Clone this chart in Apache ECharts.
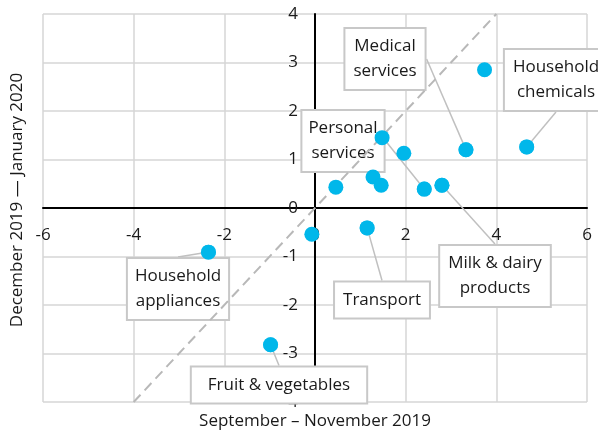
<!DOCTYPE html>
<html lang="en">
<head>
    <meta charset="UTF-8">
    <script src="https://cdn.jsdelivr.net/npm/echarts@6.0.0/dist/echarts.min.js"></script>
    <title>Price changes</title>
    <style>
        html, body { margin: 0; padding: 0; background: #fff; }
    </style>
</head>
<body>
    <div id="main" style="width: 598px;height:434px;"></div>
    <script type="text/javascript">

      // change in Sep-Nov 2019 (x) vs Dec 2019-Jan 2020 (y)
      var xValues = [3.74, 3.33, 4.67, 1.48, 1.96, 0.46, 1.28, 1.46, 2.41, 2.80, -2.35, -0.98, -0.07, 1.15];
      var yValues = [2.85, 1.20, 1.26, 1.45, 1.13, 0.43, 0.64, 0.47, 0.39, 0.47, -0.91, -2.82, -0.54, -0.41];
      var pointNames = ['', 'Medical\nservices', 'Household\nchemicals', '', '', '', '', '',
                        'Personal\nservices', 'Milk & dairy\nproducts', 'Household\nappliances',
                        'Fruit & vegetables', '', 'Transport'];
      var diagonal = [[-4, -4], [4, 4]];
      var xTicks = [-6, -4, -2, 0, 2, 4, 6];
      var yTicks = [-4, -3, -2, -1, 0, 1, 2, 3, 4];

      // where the callout boxes sit (pixel centre) and their padding
      var callouts = {
        'Medical\nservices': { pos: [385, 59], pad: [5, 8] },
        'Household\nchemicals': { pos: [556, 80], pad: [5, 8] },
        'Personal\nservices': { pos: [343, 141], pad: [5, 6] },
        'Milk & dairy\nproducts': { pos: [495, 276], pad: [5, 8] },
        'Household\nappliances': { pos: [178, 289], pad: [5, 7] },
        'Fruit & vegetables': { pos: [279, 385], pad: [5, 16] },
        'Transport': { pos: [382, 300], pad: [5, 8] }
      };

      var fontName = 'Open Sans';
      var fontSize = 17;
      var textColor = '#1a1a1a';
      var dotColor = '#00b7ea';
      var myChart = echarts.init(document.getElementById('main'));

      var points = xValues.map(function (x, i) {
        return [x, yValues[i]];
      });

      // only the named points get a callout
      var labelled = [];
      points.forEach(function (p, i) {
        var name = pointNames[i];
        if (!name) return;
        labelled.push({
          name: name,
          value: p,
          label: { show: true, padding: callouts[name].pad },
          labelLine: { show: true }
        });
      });

      var option = {
        animation: false,
        grid: { left: 43, right: 11, top: 14, bottom: 32 },
        xAxis: {
          type: 'value',
          position: 'bottom',
          offset: -194,   // sits on y = 0
          min: xTicks[0], max: xTicks[xTicks.length - 1], interval: 2,
          axisLine: { onZero: false, lineStyle: { color: '#000', width: 2 } },
          axisTick: { show: false },
          axisLabel: { margin: 19, fontSize: fontSize, color: textColor, fontFamily: fontName, showMinLabel: true, showMaxLabel: true },
          splitLine: { show: true, lineStyle: { color: '#d6d6d6', width: 1.5 } }
        },
        yAxis: {
          type: 'value',
          position: 'left',
          offset: -272,   // sits on x = 0
          min: yTicks[0], max: yTicks[yTicks.length - 1], interval: 1,
          axisLine: { onZero: false, lineStyle: { color: '#000', width: 2 } },
          axisTick: { show: false },
          axisLabel: { margin: 17, fontSize: fontSize, color: textColor, fontFamily: fontName, showMinLabel: true, showMaxLabel: true },
          splitLine: { show: true, lineStyle: { color: '#d6d6d6', width: 1.5 } }
        },
        graphic: [
          {
            type: 'text', x: 315, y: 421,
            style: { text: 'September – November 2019', fontSize: fontSize, fontFamily: fontName, fill: textColor,
                     align: 'center', verticalAlign: 'middle' }
          },
          {
            type: 'text', x: 17, y: 200, rotation: Math.PI / 2,
            style: { text: 'December 2019 — January 2020', fontSize: fontSize, fontFamily: fontName, fill: textColor,
                     align: 'center', verticalAlign: 'middle' }
          }
        ],
        series: [
          {
            // callout boxes, kept under the dots and the diagonal
            type: 'scatter',
            z: 1,
            symbolSize: 15,
            itemStyle: { color: dotColor },
            data: labelled,
            label: {
              formatter: '{b}',
              fontSize: fontSize,
              lineHeight: 25,
              fontFamily: fontName,
              color: textColor,
              opacity: 1,
              backgroundColor: '#fff',
              borderColor: '#c8c8c8',
              borderWidth: 2
            },
            labelLine: { show: true, lineStyle: { color: '#c0c0c0', width: 1.5 } },
            labelLayout: function (params) {
              var c = callouts[labelled[params.dataIndex].name];
              return { x: c.pos[0], y: c.pos[1], align: 'center', verticalAlign: 'middle' };
            }
          },
          {
            type: 'scatter',
            z: 3,
            symbolSize: 15,
            itemStyle: { color: dotColor, opacity: 1 },
            data: points,
            markLine: {
              silent: true,
              z: 3,
              symbol: ['none', 'none'],
              label: { show: false },
              lineStyle: { color: '#b8b8b8', type: [10, 6], width: 2 },
              data: [[{ coord: diagonal[0] }, { coord: diagonal[1] }]]
            }
          }
        ]
      };

      myChart.setOption(option);
    </script>
</body>
</html>
